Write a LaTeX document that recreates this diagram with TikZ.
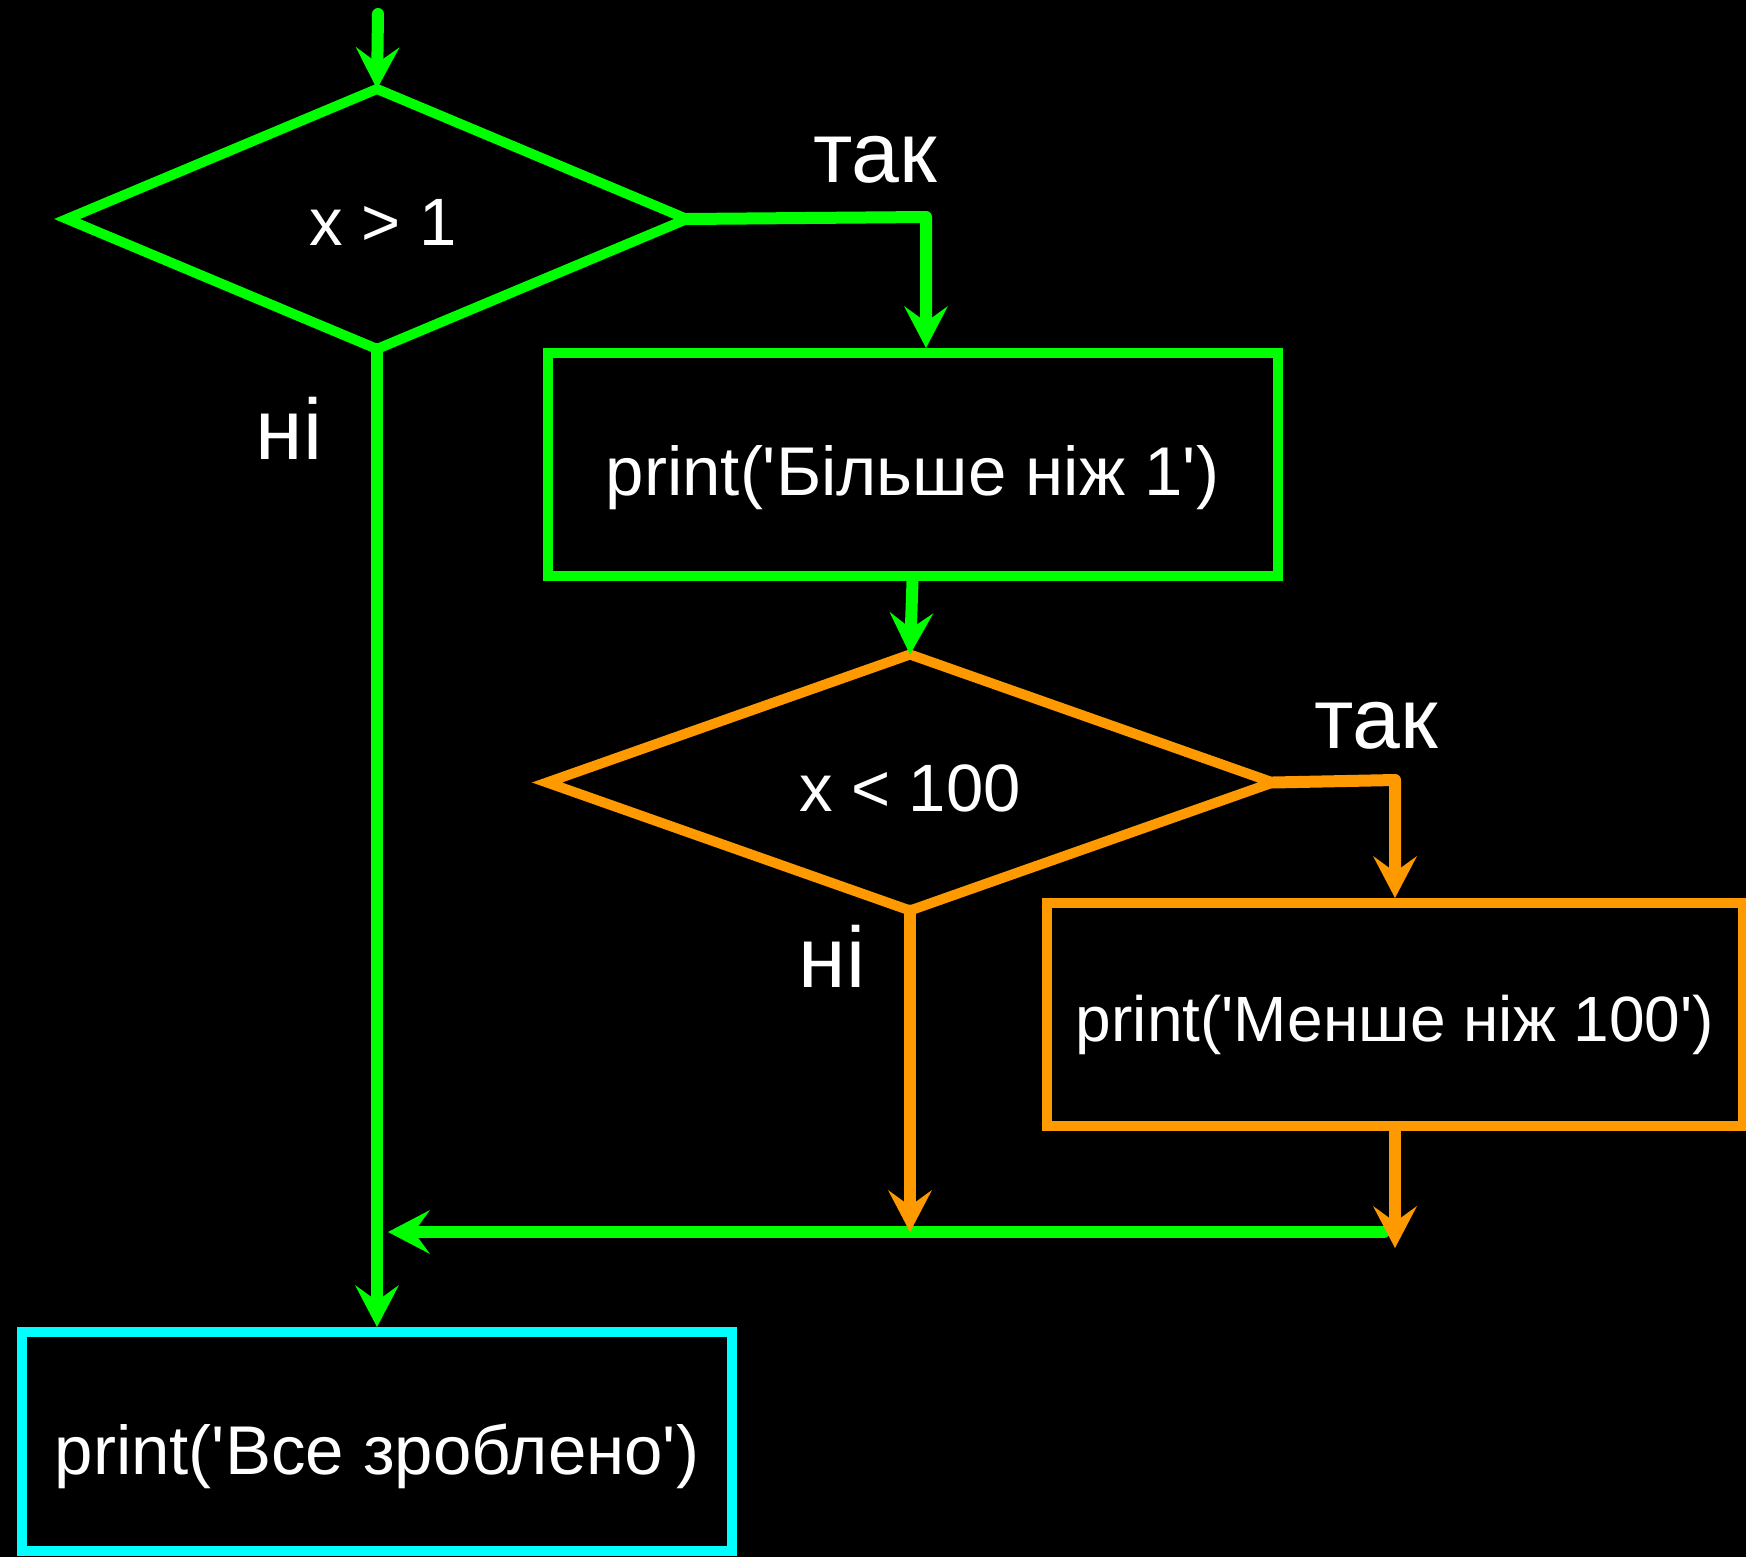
\documentclass[tikz,border=0pt]{standalone}
\usepackage{fontspec}
\setmainfont{Liberation Sans}
\usetikzlibrary{shapes.geometric,arrows.meta,calc}
\definecolor{fgreen}{HTML}{00FF00}
\definecolor{forange}{HTML}{FF9900}
\definecolor{fcyan}{HTML}{00FFFF}
\newcommand\sq{\textquotesingle}
\begin{document}
\begin{tikzpicture}[x=0.5pt,y=-0.5pt,
 box/.style={draw, line width=5pt, rectangle, text=white, inner sep=0pt, font=\fontsize{34.5}{40}\selectfont},
 dec/.style={draw, line width=5pt, diamond, text=white, inner sep=0pt, outer sep=0pt, font=\fontsize{33.5}{40}\selectfont},
 conn/.style={line width=6pt, line cap=round, line join=round, -{Stealth[length=21pt,width=22pt,inset=8pt,line width=0pt]}},
 lbl/.style={text=white, font=\fontsize{43}{48}\selectfont, anchor=base, inner sep=0pt}]
\fill[black] (0,0) rectangle (1746,1557);
\useasboundingbox (0,0) rectangle (1746,1557);

% shapes
\node[dec, draw=fgreen, shape aspect=2.41, minimum width=310pt, minimum height=130pt, text height=27pt, text depth=0pt] (d1) at (377,219) {\hspace{6pt}x > 1};
\node[box, draw=fgreen, minimum width=365pt, minimum height=111.5pt, text height=30.5pt, text depth=0pt] (r1) at (912.5,464.5) {print(\sq Більше ніж 1\sq)};
\node[dec, draw=forange, shape aspect=2.86, minimum width=363pt, minimum height=128pt, text height=28.5pt, text depth=0pt] (d2) at (910,782.5) {x < 100};
\node[box, draw=forange, minimum width=348pt, minimum height=111.5pt, text height=26.5pt, text depth=0pt, font=\fontsize{32}{38}\selectfont] (r2) at (1395,1014.5) {print(\sq Менше ніж 100\sq)};
\node[box, draw=fcyan, minimum width=355pt, minimum height=109.5pt, text height=32.5pt, text depth=0pt] (r3) at (377,1441.5) {print(\sq Все зроблено\sq)};

% labels
\node[lbl] (t1) at (875,183) {так};
\node[lbl] (n1) at (289,459) {ні};
\node[lbl] (t2) at (1376,748) {так};
\node[lbl] (n2) at (832,987) {ні};

% connectors
\coordinate (s0) at (378,14);
\coordinate (c1) at (926,217);
\coordinate (c2) at (1395,780);
\coordinate (mr) at (1384,1232);
\coordinate (ml) at (388,1232);
\coordinate (e2) at (1395,1248);

\draw[conn, fgreen] (s0) -- (d1.north);
\draw[conn, fgreen] (d1.east) -- (c1) -- (c1 |- r1.north);
\draw[conn, fgreen] (d1.south) -- (r3.north);
\draw[conn, fgreen] (r1.south) -- (d2.north);
\draw[conn, fgreen] (mr) -- (ml);
\draw[conn, forange] (d2.east) -- (c2) -- (r2.north);
\draw[conn, forange] (d2.south) -- (d2.south |- mr);
\draw[conn, forange] (r2.south) -- (e2);
\end{tikzpicture}
\end{document}
